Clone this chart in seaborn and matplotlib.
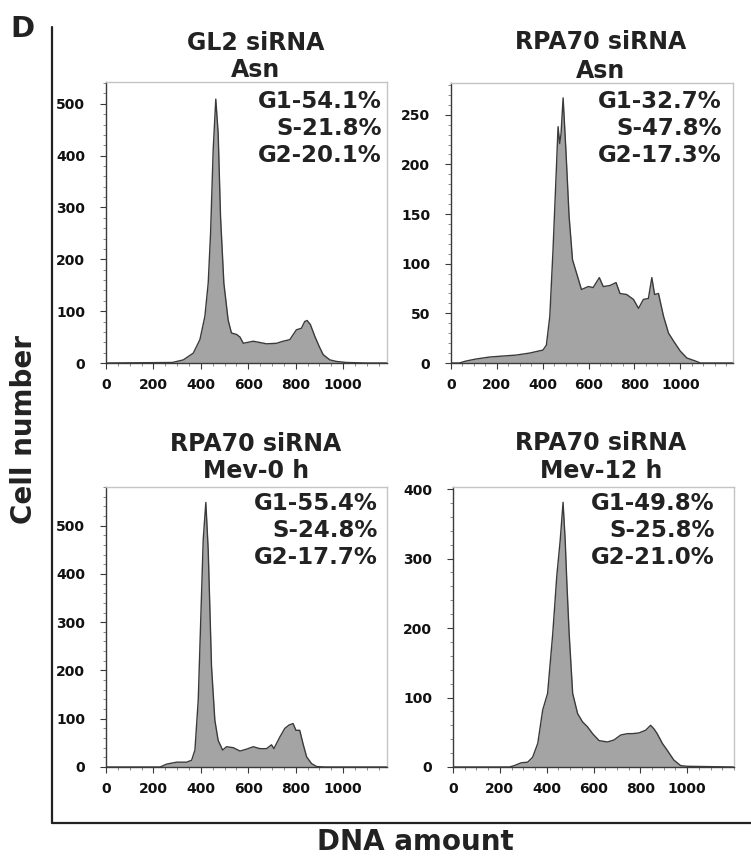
"""Cell-cycle DNA histograms (four siRNA conditions) redrawn with seaborn."""
import matplotlib
matplotlib.use("Agg")
import matplotlib.pyplot as plt
from matplotlib.lines import Line2D
from matplotlib.ticker import AutoMinorLocator
import seaborn as sns

W, H = 751, 858

# ---- data (DNA channel, cell count) ----
gl2_asn_x = [0, 280, 326, 368, 396, 417, 431, 441, 452, 463, 473, 483, 497, 515, 529,
             551, 565, 579, 621, 677, 719, 747, 775, 803, 824, 838, 848, 862, 881, 899,
             916, 944, 972, 1014, 1098, 1185]
gl2_asn_y = [0, 1, 6, 19, 45, 90, 154, 250, 411, 509, 443, 282, 154, 83, 58,
             55, 50, 38, 42, 37, 38, 42, 45, 64, 67, 80, 82, 74, 51, 32,
             16, 6, 3, 1, 0, 0]

rpa_asn_x = [0, 36, 66, 109, 168, 226, 285, 343, 401, 416, 431, 445, 460, 467, 474,
             480, 489, 501, 515, 530, 547, 569, 599, 620, 647, 664, 693, 720, 737,
             766, 796, 818, 839, 861, 876, 888, 905, 927, 949, 971, 1000, 1029, 1066,
             1088, 1230]
rpa_asn_y = [0, 0, 2, 4, 6, 7, 8, 10, 13, 18, 47, 114, 198, 238, 221,
             231, 267, 215, 148, 104, 91, 74, 77, 76, 86, 77, 78, 81, 70,
             69, 64, 55, 64, 65, 86, 69, 70, 47, 30, 22, 12, 5, 2,
             0, 0]

rpa_mev0_x = [0, 228, 256, 298, 340, 361, 375, 389, 400, 410, 421, 431, 445, 459, 473,
              492, 508, 537, 565, 593, 621, 649, 677, 698, 708, 733, 754, 772, 789,
              801, 817, 831, 846, 867, 888, 920, 1185]
rpa_mev0_y = [0, 0, 6, 10, 10, 14, 35, 139, 312, 471, 548, 450, 208, 97, 55,
              35, 42, 40, 33, 37, 42, 38, 38, 46, 38, 62, 80, 87, 90,
              76, 76, 48, 21, 7, 1, 0, 0]

rpa_mev12_x = [0, 241, 262, 291, 319, 340, 362, 383, 404, 426, 443, 458, 470, 479, 486,
               496, 511, 532, 553, 574, 596, 624, 660, 688, 716, 745, 766, 794, 823,
               844, 858, 872, 894, 915, 943, 972, 1000, 1200]
rpa_mev12_y = [0, 0, 2, 6, 7, 14, 34, 82, 106, 192, 274, 327, 381, 327, 267,
               192, 106, 77, 65, 58, 48, 38, 36, 39, 46, 48, 48, 49, 53,
               60, 55, 48, 34, 24, 10, 2, 1, 0]

titles = [("GL2 siRNA", "Asn"), ("RPA70 siRNA", "Asn"),
          ("RPA70 siRNA", "Mev-0 h"), ("RPA70 siRNA", "Mev-12 h")]
phases = [("G1-54.1%", "S-21.8%", "G2-20.1%"),
          ("G1-32.7%", "S-47.8%", "G2-17.3%"),
          ("G1-55.4%", "S-24.8%", "G2-17.7%"),
          ("G1-49.8%", "S-25.8%", "G2-21.0%")]
x_ticks = [0, 200, 400, 600, 800, 1000]
y_ticks = [[0, 100, 200, 300, 400, 500], [0, 50, 100, 150, 200, 250],
           [0, 100, 200, 300, 400, 500], [0, 100, 200, 300, 400]]
x_limits = [1185, 1230, 1185, 1200]
y_limits = [542, 282, 580, 403]

# ---- layout (pixel boxes: left, top, right, bottom) ----
boxes = [(106, 82, 387, 363), (451, 83, 733, 363),
         (106, 487, 387, 767), (453, 487, 734, 767)]
title_pos = [(256, 50, 77), (601, 49, 78), (256, 451, 478), (601, 450, 478)]
phase_pos = [(382, 108), (722, 108), (378, 510), (715, 510)]

FILL = "#a4a4a4"
EDGE = "#3a3a3a"
DARK = "#222222"


def fx(x):
    return x / W


def fy(y):
    return 1 - y / H


sns.set_style("ticks")
plt.rcParams["font.family"] = ["DejaVu Sans"]
plt.rcParams["font.weight"] = "bold"

fig = plt.figure(figsize=(W / 100, H / 100), dpi=100)

series = [(gl2_asn_x, gl2_asn_y), (rpa_asn_x, rpa_asn_y),
          (rpa_mev0_x, rpa_mev0_y), (rpa_mev12_x, rpa_mev12_y)]

for i, (xs, ys) in enumerate(series):
    l, t, r, b = boxes[i]
    ax = fig.add_axes([fx(l), fy(b), (r - l) / W, (b - t) / H])
    ax.fill_between(xs, ys, 0, color=FILL, lw=0)
    sns.lineplot(x=xs, y=ys, ax=ax, color=EDGE, lw=1.0, sort=False)
    ax.set_xlim(0, x_limits[i])
    ax.set_ylim(0, y_limits[i])
    ax.set_xticks(x_ticks)
    ax.set_yticks(y_ticks[i])
    ax.xaxis.set_minor_locator(AutoMinorLocator(4))
    ax.yaxis.set_minor_locator(AutoMinorLocator(5))
    ax.tick_params(axis="both", which="major", length=4, width=0.8, color=EDGE,
                   labelsize=10, top=False, right=False)
    ax.tick_params(axis="both", which="minor", length=2, width=0.6, color="#777777",
                   top=False, right=False)
    ax.tick_params(axis="y", pad=11)
    ax.tick_params(axis="x", pad=7)
    for lab in ax.get_xticklabels() + ax.get_yticklabels():
        lab.set_fontweight("bold")
        lab.set_color("#111111")
    ax.set_xlabel("")
    ax.set_ylabel("")
    for side in ("top", "right"):
        ax.spines[side].set_color("#c4c4c4")
        ax.spines[side].set_linewidth(1.0)
    for side in ("left", "bottom"):
        ax.spines[side].set_color(EDGE)
        ax.spines[side].set_linewidth(1.0)

    cx, b1, b2 = title_pos[i]
    fig.text(fx(cx), fy(b1), titles[i][0], ha="center", va="baseline",
             fontsize=17, fontweight="bold", color=DARK)
    fig.text(fx(cx), fy(b2), titles[i][1], ha="center", va="baseline",
             fontsize=17, fontweight="bold", color=DARK)
    px, py = phase_pos[i]
    for k, s in enumerate(phases[i]):
        fig.text(fx(px), fy(py + 27 * k), s, ha="right", va="baseline",
                 fontsize=16.5, fontweight="bold", color=DARK)

# big L-shaped frame
fig.add_artist(Line2D([fx(52), fx(52)], [fy(27), fy(823)], color=DARK, lw=1.6))
fig.add_artist(Line2D([fx(52), fx(751)], [fy(823), fy(823)], color=DARK, lw=1.6))

fig.text(fx(24), fy(429), "Cell number", rotation=90, ha="center", va="center",
         fontsize=20, fontweight="bold", color=DARK)
fig.text(fx(415), fy(850), "DNA amount", ha="center", va="baseline",
         fontsize=20, fontweight="bold", color=DARK)
fig.text(fx(22), fy(37), "D", ha="center", va="baseline",
         fontsize=21, fontweight="bold", color=DARK)

fig.savefig("out.png", dpi=100)
